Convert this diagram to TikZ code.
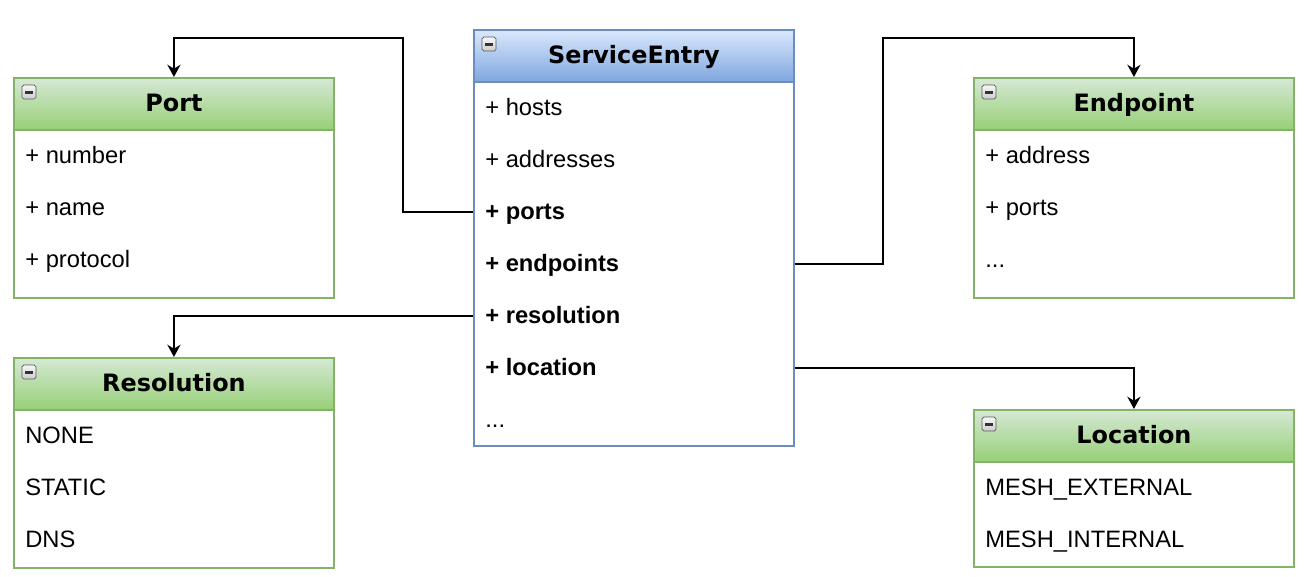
\documentclass[tikz,border=0pt]{standalone}
\usepackage{fontspec}
\setmainfont{Liberation Sans}
\newfontfamily\headfont{DejaVu Sans}
\usetikzlibrary{arrows.meta}

\definecolor{blueline}{HTML}{6C8EBF}
\definecolor{bluetop}{HTML}{DAE8FC}
\definecolor{bluebot}{HTML}{7EA6E0}
\definecolor{greenline}{HTML}{82B366}
\definecolor{greentop}{HTML}{D5E8D4}
\definecolor{greenbot}{HTML}{97D077}

\tikzset{
	classhead/.style={draw, anchor=north west, minimum width=6.4cm, minimum height=1.04cm, inner sep=0pt, line width=1.1pt, text height=0.88em, text depth=0pt, font=\headfont\bfseries\fontsize{13.6}{16}\selectfont},
	bluehead/.style={classhead, draw=blueline, top color=bluetop, bottom color=bluebot},
	greenhead/.style={classhead, draw=greenline, top color=greentop, bottom color=greenbot},
	classbody/.style={draw, fill=white, anchor=north west, minimum width=6.4cm, inner sep=0pt, line width=1.1pt},
	rowtext/.style={anchor=west, inner sep=0pt, text height=0.88em, text depth=0pt, font=\fontsize{13.5}{16}\selectfont},
	link/.style={draw=black, line width=1.1pt, -{Stealth[length=7pt,width=7.5pt]}}
}

% small collapse box in the corner of a header
\newcommand{\collapseicon}[1]{%
	\draw[gray!70!black, line width=0.4pt, rounded corners=1pt, top color=gray!5, bottom color=gray!40, shift={(#1.north west)}] (9,8) rectangle (23,22);
	\draw[black!80, line width=1.7pt, shift={(#1.north west)}] (12,15) -- (20,15);
}

\begin{document}
\begin{tikzpicture}[x=0.02cm, y=-0.02cm]
	\useasboundingbox (0,0) rectangle (1306,576);

	% ServiceEntry
	\node[classbody, draw=blueline, minimum height=7.28cm] (se-body) at (473,81) {};
	\node[bluehead] (se) at (473,29) {ServiceEntry};
	\collapseicon{se}
	\node[rowtext] (se-hosts) at (485,108) {+ hosts};
	\node[rowtext] (se-addresses) at (485,160) {+ addresses};
	\node[rowtext] (se-ports) at (485,212) {\bfseries + ports};
	\node[rowtext] (se-endpoints) at (485,264) {\bfseries + endpoints};
	\node[rowtext] (se-resolution) at (485,316) {\bfseries + resolution};
	\node[rowtext] (se-location) at (485,368) {\bfseries + location};
	\node[rowtext] (se-more) at (485,420) {...};

	% Port
	\node[classbody, draw=greenline, minimum height=3.36cm] (port-body) at (13,129) {};
	\node[greenhead] (port) at (13,77) {Port};
	\collapseicon{port}
	\node[rowtext] (port-number) at (25,156) {+ number};
	\node[rowtext] (port-name) at (25,208) {+ name};
	\node[rowtext] (port-protocol) at (25,260) {+ protocol};

	% Endpoint
	\node[classbody, draw=greenline, minimum height=3.36cm] (endpoint-body) at (973,129) {};
	\node[greenhead] (endpoint) at (973,77) {Endpoint};
	\collapseicon{endpoint}
	\node[rowtext] (endpoint-address) at (985,156) {+ address};
	\node[rowtext] (endpoint-ports) at (985,208) {+ ports};
	\node[rowtext] (endpoint-more) at (985,260) {...};

	% Resolution
	\node[classbody, draw=greenline, minimum height=3.16cm] (resolution-body) at (13,409) {};
	\node[greenhead] (resolution) at (13,357) {Resolution};
	\collapseicon{resolution}
	\node[rowtext] (resolution-none) at (25,436) {NONE};
	\node[rowtext] (resolution-static) at (25,488) {STATIC};
	\node[rowtext] (resolution-dns) at (25,540) {DNS};

	% Location
	\node[classbody, draw=greenline, minimum height=2.1cm] (location-body) at (973,461) {};
	\node[greenhead] (location) at (973,409) {Location};
	\collapseicon{location}
	\node[rowtext] (location-ext) at (985,488) {MESH\_EXTERNAL};
	\node[rowtext] (location-int) at (985,540) {MESH\_INTERNAL};

	% links
	\draw[link] (se-ports.west -| se.west) -| (403,38) -| (port.north);
	\draw[link] (se-endpoints.west -| se.east) -| (883,38) -| (endpoint.north);
	\draw[link] (se-resolution.west -| se.west) -| (resolution.north);
	\draw[link] (se-location.west -| se.east) -| (location.north);
\end{tikzpicture}
\end{document}
